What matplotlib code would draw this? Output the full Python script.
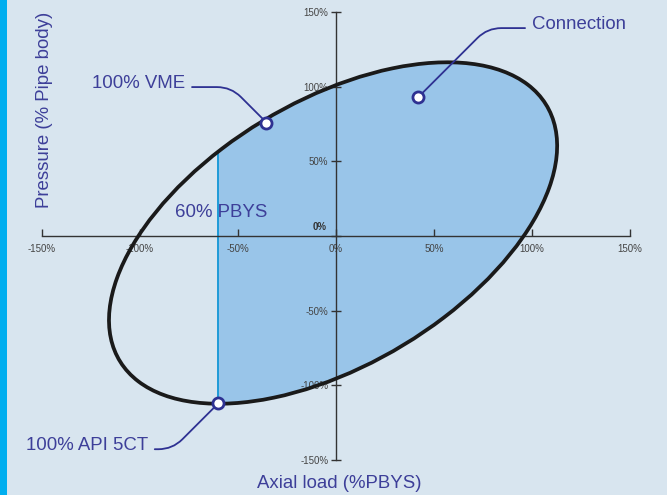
import numpy as np
import matplotlib.pyplot as plt
from matplotlib.patches import Ellipse, Rectangle

plt.rcParams['font.family'] = ['Liberation Sans', 'DejaVu Sans']

# ------------------
# data (percent)

ticks = [-150, -100, -50, 0, 50, 100, 150]
tick_labels = ['-150%', '-100%', '-50%', '0%', '50%', '100%', '150%']

# VME ellipse (rotated 45 deg)
vme_center = (-1.5, 2)
vme_width = 281
vme_height = 160
vme_angle = 45

pbys_limit = -60

point_names = ['100% VME', 'Connection', '100% API 5CT']
point_x = [-35.5, 42, -60]
point_y = [76, 93, -112]
text_x = [-77, 100, -96]
text_y = [102, 141.5, -140.5]
text_ha = ['right', 'left', 'right']
conn_angle = [-45, 45, 45]

bg = '#d8e5ef'
fill_col = '#99c5e9'
purple = '#3d3f99'
navy = '#2e3192'
fs = 13.4

fig = plt.figure(figsize=(6.67, 4.95), dpi=100)
fig.patch.set_facecolor(bg)
fig.patches.append(Rectangle((0, 0), 7/667, 1, transform=fig.transFigure,
                             facecolor='#00aeef', edgecolor='none'))

ax = fig.add_axes((42/667, 35/495, 588/667, 448/495))
ax.set_facecolor(bg)
ax.set_xlim(-150, 150)
ax.set_ylim(-150, 150)

for s in ['top', 'right']:
    ax.spines[s].set_visible(False)
for s in ['left', 'bottom']:
    ax.spines[s].set_position(('data', 0))
    ax.spines[s].set_color('#333333')
    ax.spines[s].set_linewidth(1.0)

ax.set_xticks(ticks)
ax.set_xticklabels(tick_labels)
ax.set_yticks(ticks)
ax.set_yticklabels([l if t != 0 else '' for t, l in zip(ticks, tick_labels)])
ax.tick_params(axis='x', direction='in', length=5, width=1, color='#333333',
               labelsize=7, labelcolor='#444444', pad=6)
ax.tick_params(axis='y', direction='inout', length=7, width=1, color='#333333',
               labelsize=7, labelcolor='#444444', pad=2)
ax.text(-5, 3, '0%', fontsize=7, fontweight='bold', color='#333333',
        ha='right', va='bottom')

# filled region (clipped to x >= pbys_limit)
fill = Ellipse(vme_center, vme_width, vme_height, angle=vme_angle,
               facecolor=fill_col, edgecolor='none', zorder=1)
ax.add_patch(fill)
clip = Rectangle((pbys_limit, -200), 400, 400, transform=ax.transData)
fill.set_clip_path(clip)

outline = Ellipse(vme_center, vme_width, vme_height, angle=vme_angle,
                  facecolor='none', edgecolor='#1a1a1a', lw=2.7, zorder=3)
ax.add_patch(outline)

vl = ax.axvline(pbys_limit, color='#1d9ad8', lw=1.4, zorder=2)
vl.set_clip_path(fill)

ax.text(pbys_limit - 22, 16, '60% PBYS', fontsize=fs, color=purple,
        ha='left', va='center')

for i in range(len(point_names)):
    ax.annotate(point_names[i], xy=(point_x[i], point_y[i]),
                xytext=(text_x[i], text_y[i]), textcoords='data',
                fontsize=fs, color=purple, ha=text_ha[i], va='center',
                annotation_clip=False,
                arrowprops=dict(arrowstyle='-', color=navy, lw=1.3,
                                relpos=(1 if text_ha[i] == 'right' else 0, 0.3),
                                shrinkA=3, shrinkB=4,
                                connectionstyle=f'angle,angleA=0,angleB={conn_angle[i]},rad=14'),
                zorder=4)
ax.plot(point_x, point_y, 'o', ms=8, mfc='white', mec=navy, mew=2, zorder=5,
        clip_on=False)

fig.text(339/667, 1 - 483/495, 'Axial load (%PBYS)', fontsize=fs, color=purple,
         ha='center', va='center')
fig.text(45/667, 1 - 110/495, 'Pressure (% Pipe body)', fontsize=fs, color=purple,
         ha='center', va='center', rotation=90)

fig.savefig('out.png', dpi=100, facecolor=bg)
